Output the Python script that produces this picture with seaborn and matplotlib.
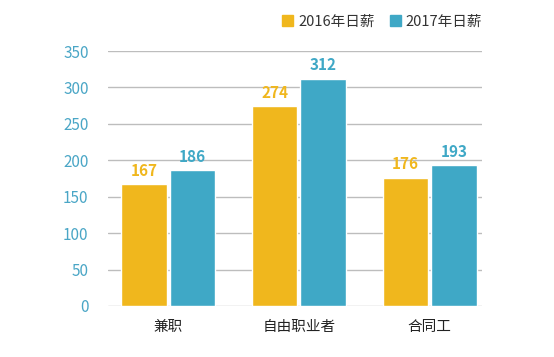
import pandas as pd
import matplotlib.pyplot as plt
import seaborn as sns

categories = ['兼职', '自由职业者', '合同工']
series = ['2016年日薪', '2017年日薪']
pay_2016 = [167, 274, 176]
pay_2017 = [186, 312, 193]
colors = ['#F0B71D', '#3FA8C6']

df = pd.DataFrame({
    'cat': categories * 2,
    'year': [series[0]] * 3 + [series[1]] * 3,
    'pay': pay_2016 + pay_2017,
})

sns.set_style('white')
plt.rcParams['font.family'] = ['Noto Sans CJK SC', 'DejaVu Sans']

fig = plt.figure(figsize=(5.54, 3.57), dpi=100)
ax = fig.add_axes([0.195, 0.143, 0.675, 0.714])

sns.barplot(data=df, x='cat', y='pay', hue='year', palette=colors,
            width=0.74, gap=0.06, saturation=1, ax=ax, legend=False)

for cont, c in zip(ax.containers, colors):
    ax.bar_label(cont, padding=4, color=c, fontsize=11, fontweight='bold')

ax.set_ylim(0, 350)
ax.set_xlim(-0.46, 2.4)
ax.set_yticks(range(0, 351, 50))
ax.yaxis.grid(True, color='#bdbdbd', linewidth=1)
ax.set_axisbelow(True)
for s in ax.spines.values():
    s.set_visible(False)
ax.tick_params(axis='y', colors='#4aa6c6', labelsize=11, length=0, pad=14)
ax.tick_params(axis='x', colors='#222222', labelsize=10.5, length=0, pad=10)
ax.set_xlabel('')
ax.set_ylabel('')

handles = [plt.Rectangle((0, 0), 1, 1, color=c) for c in colors]
fig.legend(handles, series, loc='center right', bbox_to_anchor=(0.894, 0.94),
           ncol=2, frameon=False, fontsize=10.5, handlelength=0.75, handleheight=0.75,
           columnspacing=1.0, handletextpad=0.35, labelcolor='#333333')

fig.savefig('out.png', dpi=100)
